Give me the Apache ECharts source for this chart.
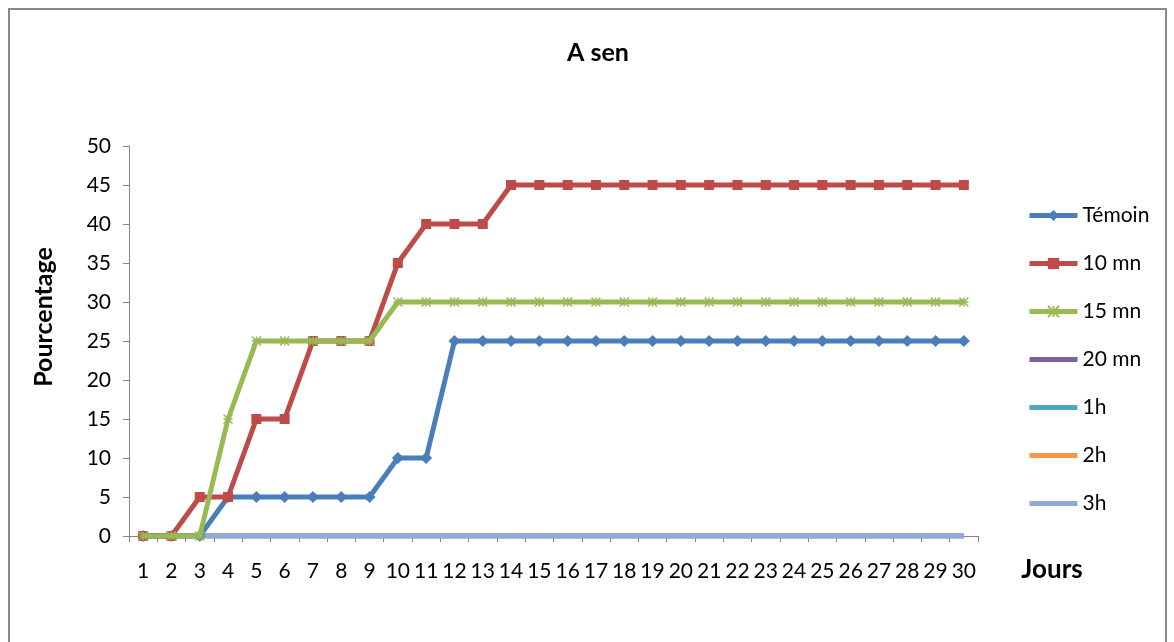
<!DOCTYPE html>
<html><head><meta charset="utf-8">
<script src="https://cdn.jsdelivr.net/npm/echarts@6/dist/echarts.min.js"></script>
<style>html,body{margin:0;padding:0;background:#fff}#c{width:1174px;height:642px}</style>
</head><body><div id="c"></div>
<script>
const days = Array.from({length:30},(_,i)=>String(i+1));
const temoin = [0,0,0,5,5,5,5,5,5,10,10,25,25,25,25,25,25,25,25,25,25,25,25,25,25,25,25,25,25,25];
const mn10 = [0,0,5,5,15,15,25,25,25,35,40,40,40,45,45,45,45,45,45,45,45,45,45,45,45,45,45,45,45,45];
const mn15 = [0,0,0,15,25,25,25,25,25,30,30,30,30,30,30,30,30,30,30,30,30,30,30,30,30,30,30,30,30,30];
const mn20 = new Array(30).fill(0);
const h1 = new Array(30).fill(0);
const h2 = new Array(30).fill(0);
const h3 = new Array(30).fill(0);
const yTicks = [0,5,10,15,20,25,30,35,40,45,50];

const F = 'Lato, "Open Sans", sans-serif';
const chart = echarts.init(document.getElementById('c'));
function ser(name, data, color, symbol, size, extra){
  return Object.assign({
    name, type:'line', data, color,
    symbol: symbol || 'none', symbolSize: size || 0, showSymbol: !!symbol,
    lineStyle:{width:5, color}, itemStyle:{color},
    animation:false
  }, extra||{});
}
const star = 'path://M0,0 L10,10 M10,0 L0,10 M5,0 L5,10 M0,5 L10,5';
const noSym = {itemStyle:{opacity:0}};
chart.setOption({
  animation:false,
  title:{text:'A sen', left:593, top:35, textAlign:'center',
    textStyle:{fontFamily:F, fontSize:25, fontWeight:'bold', color:'#000'}},
  grid:{left:129, top:146, right:196, bottom:106},
  legend:{orient:'vertical', left:1027, top:205, padding:0, itemWidth:48, itemHeight:14, itemGap:27,
    lineStyle:{width:5},
    textStyle:{fontFamily:F, fontSize:21, lineHeight:21, color:'#000'},
    data:[{name:'Témoin'},{name:'10 mn'},{name:'15 mn'},
      Object.assign({name:'20 mn'},noSym),Object.assign({name:'1h'},noSym),
      Object.assign({name:'2h'},noSym),Object.assign({name:'3h'},noSym)]},
  xAxis:{type:'category', data:days, boundaryGap:true,
    axisLine:{show:true, lineStyle:{color:'#868686', width:1}},
    axisTick:{show:true, length:6, lineStyle:{color:'#868686'}},
    axisLabel:{interval:0, margin:25, fontFamily:F, fontSize:21, color:'#000'}},
  yAxis:{type:'value', min:0, max:50, interval:5,
    axisLine:{show:true, lineStyle:{color:'#868686', width:1}},
    axisTick:{show:true, length:6, inside:false, lineStyle:{color:'#868686'}},
    splitLine:{show:false},
    axisLabel:{margin:18, fontFamily:F, fontSize:21, color:'#000'}},
  graphic:[
    {type:'rect', shape:{x:9, y:9, width:1157, height:640}, style:{fill:'none', stroke:'#888', lineWidth:2}, silent:true},
    {type:'text', x:44, y:317, rotation:Math.PI/2, style:{text:'Pourcentage', font:'bold 25px '+F, fill:'#000', align:'center', verticalAlign:'middle'}},
    {type:'text', x:1052, y:570, style:{text:'Jours', font:'bold 26px '+F, fill:'#000', align:'center', verticalAlign:'middle'}}
  ],
  series:[
    ser('20 mn', mn20, '#7D60A0'),
    ser('1h', h1, '#46AAC5'),
    ser('2h', h2, '#F79646'),
    ser('3h', h3, '#8FAADC'),
    ser('Témoin', temoin, '#4A7EBB', 'diamond', 12, {z:5}),
    ser('10 mn', mn10, '#BE4B48', 'rect', 10, {z:6}),
    ser('15 mn', mn15, '#98B954', star, 9, {z:7, itemStyle:{color:'#98B954', borderColor:'#98B954', borderWidth:1.5}})
  ]
});
</script></body></html>
